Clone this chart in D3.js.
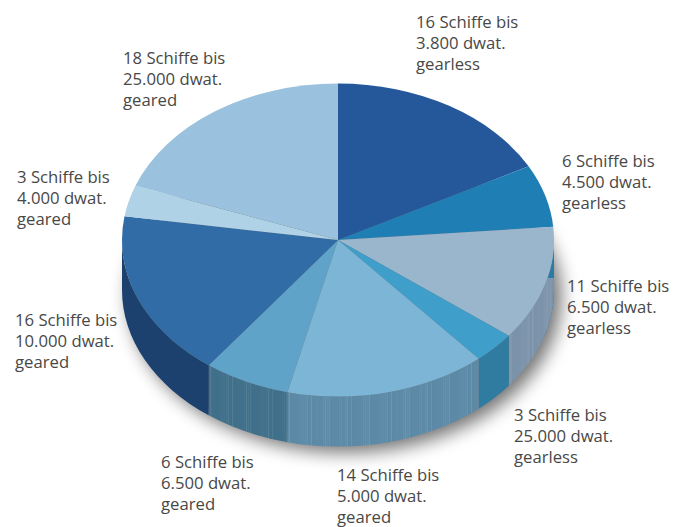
<!DOCTYPE html>
<html><head><meta charset="utf-8">
<script src="https://cdn.jsdelivr.net/npm/d3@7"></script>
<style>
html,body{margin:0;padding:0;background:#fff;overflow:hidden}
text{font-family:"Open Sans",sans-serif;font-size:16.7px;fill:#484847}
</style></head><body>
<svg id="chart" width="680" height="527"></svg>
<script>
// Fleet composition by vessel class
const shipCounts = [16, 6, 11, 3, 14, 6, 16, 3, 18];
const labelLines = [
  ["16 Schiffe bis", "3.800 dwat.", "gearless"],
  ["6 Schiffe bis", "4.500 dwat.", "gearless"],
  ["11 Schiffe bis", "6.500 dwat.", "gearless"],
  ["3 Schiffe bis", "25.000 dwat.", "gearless"],
  ["14 Schiffe bis", "5.000 dwat.", "geared"],
  ["6 Schiffe bis", "6.500 dwat.", "geared"],
  ["16 Schiffe bis", "10.000 dwat.", "geared"],
  ["3 Schiffe bis", "4.000 dwat.", "geared"],
  ["18 Schiffe bis", "25.000 dwat.", "geared"]
];
const topColors = ["#25589b", "#1f7fb5", "#9ab6cd", "#3f9fca", "#7db5d6", "#5fa3c8", "#316ca6", "#afd2e6", "#9ac1dd"];
const sideColors = ["#2a80aa", "#2a7ba6", "#7b93aa", "#2f7ca0", "#5c8aa6", "#3f6f8a", "#1c416f", "#8fb0c4", "#7fa3bd"];
const labelAnchors = [[416, 28], [562, 167], [567, 292], [514, 421], [337, 481], [161, 468], [15, 326], [17, 183], [123, 64]];
// Brightness cycle for the brushed look of the lighter wall segments
const stripeShades = [0.05, 0.01, 0.08, 0.02, 0.00, 0.06, 0.015, 0.10, 0.03, 0.00];
const stripedWalls = [2, 4, 5];

const cx = 338, cy = 240, rx = 216, ry = 156.5, depth = 50;
const wallSeamY = 278;          // the grey wall starts below this line on the right edge
const stripePitch = 2;          // horizontal spacing of wall stripes
const svg = d3.select("#chart");
const defs = svg.append("defs");

defs.append("filter").attr("id", "soft")
  .attr("x", "-20%").attr("y", "-20%").attr("width", "140%").attr("height", "140%")
  .append("feGaussianBlur").attr("stdDeviation", 9);
defs.append("clipPath").attr("id", "belowSeam")
  .append("rect").attr("x", 0).attr("y", wallSeamY).attr("width", 680).attr("height", 527 - wallSeamY);

const slices = d3.pie().sort(null)(shipCounts);
const px = a => cx + rx * Math.sin(a);
const py = a => cy - ry * Math.cos(a);

// Ground shadow beneath the cylinder
svg.append("ellipse")
  .attr("cx", cx + 7).attr("cy", cy + depth + 6)
  .attr("rx", rx).attr("ry", ry)
  .attr("fill", "#000").attr("opacity", 0.55)
  .attr("filter", "url(#soft)");

// Outer wall: only the front half of the ellipse is visible
function wallPath(a0, a1) {
  return `M${px(a0)},${py(a0)}A${rx},${ry} 0 0 1 ${px(a1)},${py(a1)}` +
         `L${px(a1)},${py(a1) + depth}A${rx},${ry} 0 0 0 ${px(a0)},${py(a0) + depth}Z`;
}
const wallGroup = svg.append("g");
const front0 = Math.PI / 2, front1 = Math.PI * 1.5;
slices.forEach((s, i) => {
  // The second slice's wall peeks out above the grey wall at the right edge
  const a0 = Math.max(s.startAngle, front0);
  const a1 = i === 1 ? front0 + 0.3 : Math.min(s.endAngle, front1);
  if (a1 <= a0 && i !== 1) return;
  const from = i === 1 ? front0 : a0;
  const wall = wallGroup.append("g");
  if (i === 2) wall.attr("clip-path", "url(#belowSeam)");
  wall.append("path").attr("d", wallPath(from, a1)).attr("fill", sideColors[i]);

  if (stripedWalls.includes(i)) {
    // Vertical stripes, clipped to their own wall segment
    const clipId = `wall-${i}`;
    defs.append("clipPath").attr("id", clipId)
      .append("path").attr("d", wallPath(from, a1));
    const stripes = wall.append("g").attr("clip-path", `url(#${clipId})`);
    const xs = [px(a0), px(a1)].sort(d3.ascending);
    d3.range(xs[0], xs[1], stripePitch).forEach((x, k) => {
      const shade = stripeShades[(k * 7 + (k >> 2)) % stripeShades.length];
      stripes.append("line")
        .attr("x1", x).attr("x2", x)
        .attr("y1", cy).attr("y2", cy + ry + depth)
        .attr("stroke", "#fff").attr("stroke-width", 1.2)
        .attr("stroke-opacity", shade);
    });
  }
});

// Lid of the cylinder: a flat pie squashed into an ellipse
const arc = d3.arc().innerRadius(0).outerRadius(rx);
svg.append("g")
  .attr("transform", `translate(${cx},${cy}) scale(1,${ry / rx})`)
  .selectAll("path").data(slices).join("path")
  .attr("d", arc)
  .attr("fill", (d, i) => topColors[i]);

// Slice captions
const captions = svg.append("g").selectAll("text").data(labelLines).join("text")
  .attr("x", (d, i) => labelAnchors[i][0])
  .attr("y", (d, i) => labelAnchors[i][1]);
captions.selectAll("tspan").data(d => d).join("tspan")
  .attr("x", function () { return this.parentNode.getAttribute("x"); })
  .attr("dy", (d, i) => i ? 20.8 : 0)
  .text(d => d);
</script>
</body></html>
